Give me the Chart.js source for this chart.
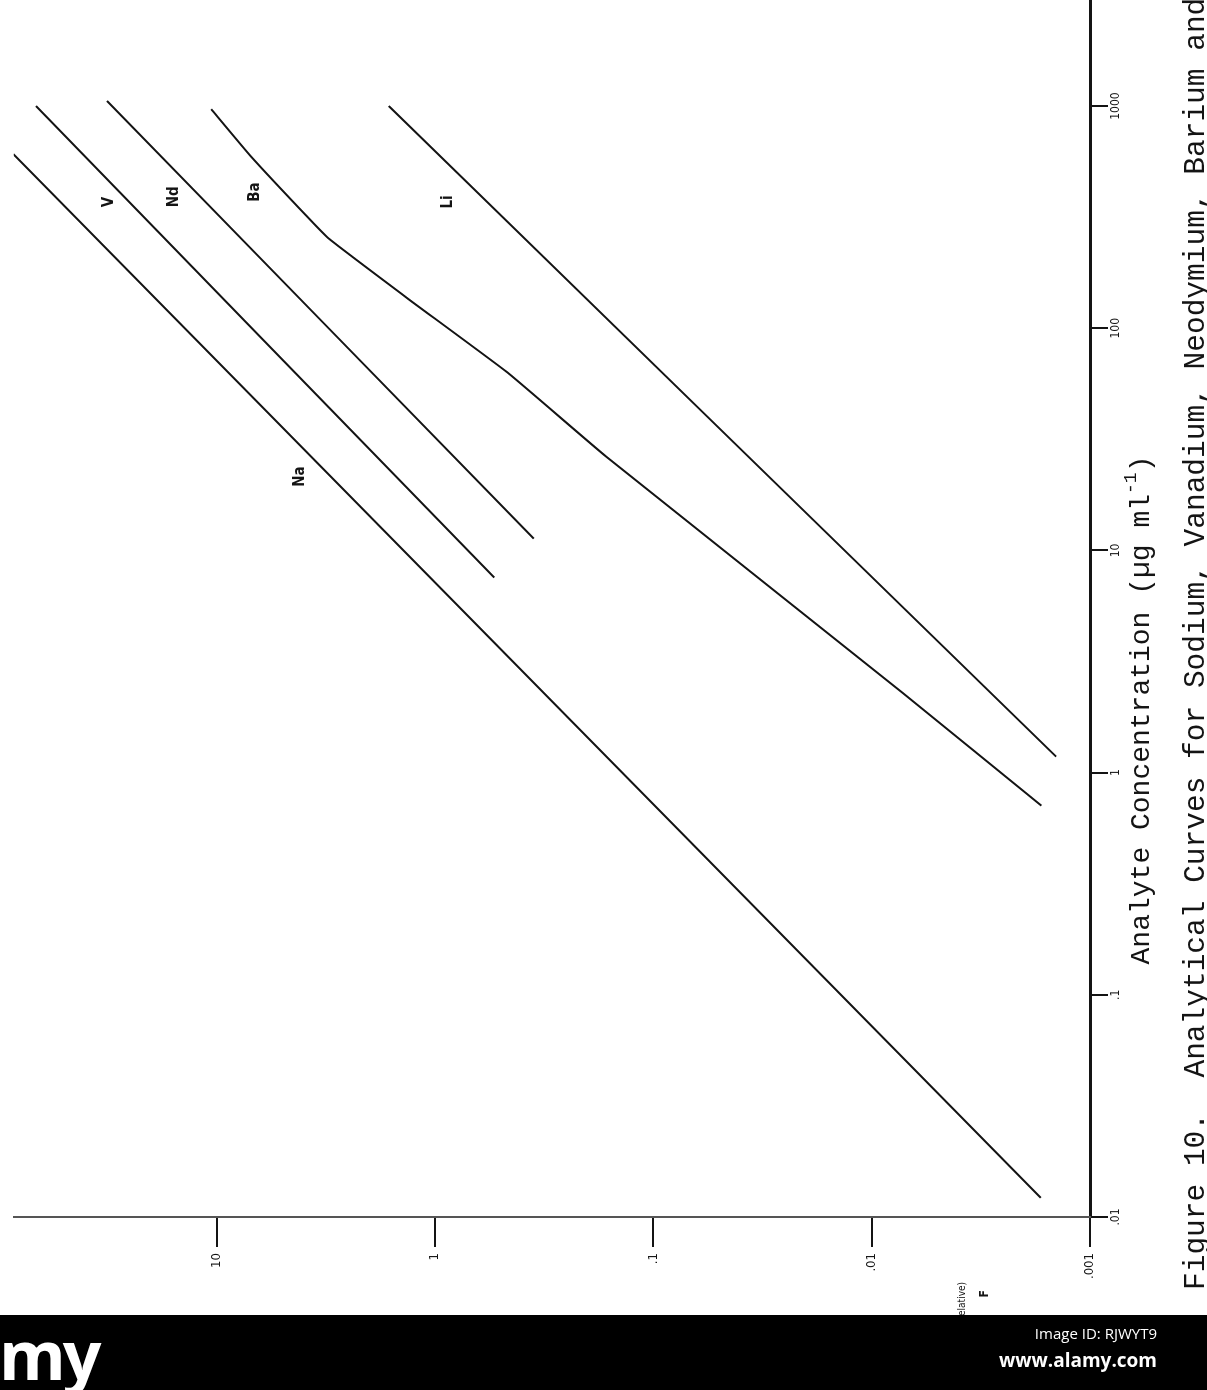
<!DOCTYPE html>
<html>
<head>
<meta charset="utf-8">
<script src="https://cdn.jsdelivr.net/npm/chart.js@4.4.0/dist/chart.umd.min.js"></script>
<style>
  html, body { margin: 0; padding: 0; background: #fff; }
  #page { position: relative; width: 1207px; height: 1390px; overflow: hidden; background: #fff; }
  #rot { position: absolute; left: 0; top: 0; width: 1390px; height: 1207px;
         transform-origin: 0 0; transform: translate(0, 1390px) rotate(-90deg); }
  #banner { position: absolute; left: 0; top: 1315px; width: 1207px; height: 75px; background: #000;
            color: #fff; font-family: 'Open Sans', sans-serif; }
  #logo { position: absolute; left: -95px; top: -8px; font-size: 68px; font-weight: 700; letter-spacing: -3px; }
  #imgid { position: absolute; right: 50px; top: 8px; font-size: 15px; }
  #site { position: absolute; right: 50px; top: 32px; font-size: 19px; font-weight: 700; }
</style>
</head>
<body>
<div id="page">
  <div id="rot"><canvas id="chart" width="1390" height="1207"></canvas></div>
  <div id="banner">
    <div id="logo">alamy</div>
    <div id="imgid">Image ID: RJWYT9</div>
    <div id="site">www.alamy.com</div>
  </div>
</div>
<script>
// concentration (ug/ml) and relative intensity
const naConc = [0.0122, 608];
const naInt = [0.00168, 85.5];
const vConc = [7.55, 1000];
const vInt = [0.536, 67.3];
const ndConc = [11.3, 1054];
const ndInt = [0.353, 31.8];
const baConc = [0.71, 2.29, 26.5, 63.4, 135, 252, 310, 596, 968];
const baInt = [0.00167, 0.00724, 0.165, 0.468, 1.32, 3.05, 3.76, 7.0, 10.6];
const liConc = [1.18, 1000];
const liInt = [0.00143, 1.63];

const seriesNames = ['Na', 'V', 'Nd', 'Ba', 'Li'];
const labelConc = [21.5, 370, 390, 410, 370];
const labelInt = [4.17, 31, 15.7, 6.7, 0.87];

const concTicks = [0.01, 0.1, 1, 10, 100, 1000];
const concTickLabels = ['.01', '.1', '1', '10', '100', '1000'];
const intTicks = [0.001, 0.01, 0.1, 1, 10];
const intTickLabels = ['.001', '.01', '.1', '1', '10'];

const INK = '#141414';
const MONO = "'Liberation Mono', 'DejaVu Sans Mono', monospace";

const toPoints = (xs, ys) => xs.map((x, i) => ({ x, y: ys[i] }));
const line = (name, xs, ys) => ({
  label: name,
  data: toPoints(xs, ys),
  borderColor: INK,
  borderWidth: 2,
  pointRadius: 0,
  tension: 0.12,
  fill: false,
});

const textPlugin = {
  id: 'figText',
  afterDraw(chart) {
    const { ctx, scales } = chart;
    ctx.save();
    ctx.fillStyle = INK;
    // series labels
    ctx.font = "bold 15px 'DejaVu Sans Condensed', sans-serif";
    ctx.textAlign = 'center';
    ctx.textBaseline = 'middle';
    seriesNames.forEach((name, i) => {
      ctx.fillText(name, scales.x.getPixelForValue(labelConc[i]), scales.y.getPixelForValue(labelInt[i]));
    });
    // x axis title with superscript
    ctx.font = '28px ' + MONO;
    ctx.textAlign = 'left';
    const main = 'Analyte Concentration (\u00b5g ml';
    const wMain = ctx.measureText(main).width;
    ctx.font = '18px ' + MONO;
    const wSup = ctx.measureText('-1').width;
    ctx.font = '28px ' + MONO;
    const wEnd = ctx.measureText(')').width;
    const x0 = 680 - (wMain + wSup + wEnd) / 2;
    const ty = 1142;
    ctx.fillText(main, x0, ty);
    ctx.font = '18px ' + MONO;
    ctx.fillText('-1', x0 + wMain, ty - 11);
    ctx.font = '28px ' + MONO;
    ctx.fillText(')', x0 + wMain + wSup, ty);
    // caption
    ctx.font = '29.5px ' + MONO;
    ctx.fillText('Figure 10.  Analytical Curves for Sodium, Vanadium, Neodymium, Barium and Lithium', 100, 1196);
    // y axis title fragments
    ctx.font = "bold 12px 'DejaVu Sans Condensed', sans-serif";
    ctx.textAlign = 'right';
    ctx.fillText('F', 100, 985);
    ctx.font = "10px 'DejaVu Sans Condensed', sans-serif";
    ctx.fillText('(relative)', 108, 962);
    ctx.restore();
  }
};

new Chart(document.getElementById('chart'), {
  type: 'line',
  plugins: [textPlugin],
  data: {
    datasets: [
      line('Na', naConc, naInt),
      line('V', vConc, vInt),
      line('Nd', ndConc, ndInt),
      line('Ba', baConc, baInt),
      line('Li', liConc, liInt),
    ],
  },
  options: {
    responsive: false,
    animation: false,
    devicePixelRatio: 1,
    layout: { padding: 0 },
    plugins: { legend: { display: false }, tooltip: { enabled: false } },
    scales: {
      x: {
        type: 'logarithmic',
        min: 0.01,
        max: 3000,
        afterBuildTicks: (axis) => { axis.ticks = concTicks.map(value => ({ value })); },
        afterFit: (axis) => { axis.height = 117; },
        ticks: {
          color: INK,
          font: { family: "'DejaVu Sans Condensed', sans-serif", size: 12 },
          maxRotation: 0,
          autoSkip: false,
          padding: 1,
          callback: (v) => concTickLabels[concTicks.indexOf(v)] ?? '',
        },
        grid: { drawOnChartArea: false, drawTicks: true, tickLength: 18, color: INK, lineWidth: 2 },
        border: { display: true, color: INK, width: 3 },
      },
      y: {
        type: 'logarithmic',
        min: 0.001,
        max: 85,
        afterBuildTicks: (axis) => { axis.ticks = intTicks.map(value => ({ value })); },
        afterFit: (axis) => { axis.width = 173; },
        ticks: {
          color: INK,
          font: { family: "'DejaVu Sans Condensed', sans-serif", size: 13 },
          autoSkip: false,
          padding: 6,
          callback: (v) => intTickLabels[intTicks.indexOf(v)] ?? '',
        },
        grid: { drawOnChartArea: false, drawTicks: true, tickLength: 30, color: INK, lineWidth: 2 },
        border: { display: true, color: '#555', width: 2 },
      },
    },
  },
});
</script>
</body>
</html>
